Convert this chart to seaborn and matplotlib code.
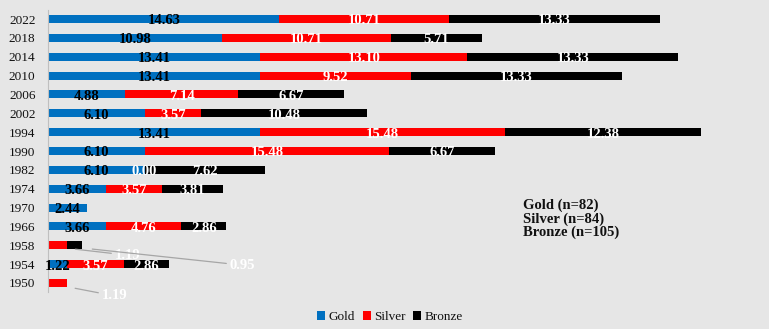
import numpy as np
import pandas as pd
import matplotlib
matplotlib.use("Agg")
import matplotlib.pyplot as plt
from matplotlib.patches import Patch
import seaborn as sns

years = ["2022", "2018", "2014", "2010", "2006", "2002", "1994", "1990",
         "1982", "1974", "1970", "1966", "1958", "1954", "1950"]
gold = [14.63, 10.98, 13.41, 13.41, 4.88, 6.10, 13.41, 6.10,
        6.10, 3.66, 2.44, 3.66, np.nan, 1.22, np.nan]
silver = [10.71, 10.71, 13.10, 9.52, 7.14, 3.57, 15.48, 15.48,
          0.00, 3.57, np.nan, 4.76, 1.19, 3.57, 1.19]
bronze = [13.33, 5.71, 13.33, 13.33, 6.67, 10.48, 12.38, 6.67,
          7.62, 3.81, np.nan, 2.86, 0.95, 2.86, np.nan]
series_names = ["Gold", "Silver", "Bronze"]
counts = ["Gold (n=82)", "Silver (n=84)", "Bronze (n=105)"]
colors = ["#0070C0", "#FF0000", "#000000"]
bg = "#E6E6E6"

sns.set_style("white", {"axes.facecolor": bg, "figure.facecolor": bg})
plt.rcParams["font.family"] = ["Liberation Serif", "DejaVu Serif"]

df = pd.DataFrame({"year": years, "Gold": gold, "Silver": silver, "Bronze": bronze})
g0 = df["Gold"].fillna(0)
s0 = df["Silver"].fillna(0)
b0 = df["Bronze"].fillna(0)
df["c_gold"] = g0
df["c_silver"] = g0 + s0
df["c_bronze"] = g0 + s0 + b0

fig = plt.figure(figsize=(7.69, 3.29), dpi=100)
fig.patch.set_facecolor(bg)
ax = fig.add_axes([48 / 769, 1 - 292.4 / 329, (760 - 48) / 769, (292.4 - 9.6) / 329])

W = 0.43
for col, c in [("c_bronze", colors[2]), ("c_silver", colors[1]), ("c_gold", colors[0])]:
    sns.barplot(data=df, x=col, y="year", order=years, orient="h", color=c,
                width=W, saturation=1, ax=ax, linewidth=0)

ax.set_xlim(0, 45)
ax.set_ylim(len(years) - 0.5, -0.5)
ax.set_xlabel("")
ax.set_ylabel("")
ax.set_xticks([])
ax.tick_params(axis="y", length=0, labelsize=9.5, pad=9, labelcolor="#111111")
for s in ["top", "right", "bottom"]:
    ax.spines[s].set_visible(False)
ax.spines["left"].set_color("#BFBFBF")
ax.spines["left"].set_linewidth(0.8)

# data labels
leader = {  # (year, series): offset in pixels (dx, dy down positive)
    ("1958", "Silver"): (70, 8),
    ("1958", "Bronze"): (168, 18),
    ("1950", "Silver"): (57, 11),
}
px2pt = 72 / 100
for i, yr in enumerate(years):
    starts = [0, g0[i], g0[i] + s0[i]]
    vals = [gold[i], silver[i], bronze[i]]
    for k, name in enumerate(series_names):
        v = vals[k]
        if v is None or np.isnan(v):
            continue
        xc = starts[k] + v / 2
        tc = "black" if k == 0 else "white"
        key = (yr, name)
        if key in leader:
            dx, dy = leader[key]
            ax.annotate(f"{v:.2f}", xy=(xc, i + 0.1), xytext=(dx * px2pt, -dy * px2pt),
                        textcoords="offset points", ha="center", va="center",
                        fontsize=10.5, fontweight="bold", color="white",
                        arrowprops=dict(arrowstyle="-", color="#A6A6A6", lw=0.9,
                                        shrinkA=0, shrinkB=13))
        else:
            ax.text(xc, i + 0.1, f"{v:.2f}", ha="center", va="center",
                    fontsize=10.5, fontweight="bold", color=tc)

# n box
fig.text(523 / 769, 1 - 199 / 329, "\n".join(counts), ha="left", va="top",
         fontsize=10.5, fontweight="bold", color="#111111", linespacing=1.0)

handles = [Patch(facecolor=c, edgecolor="none", label=n) for n, c in zip(series_names, colors)]
fig.legend(handles=handles, loc="center", bbox_to_anchor=(390 / 769, 1 - 317 / 329),
           ncol=3, frameon=False, fontsize=9.5, handlelength=0.6, handleheight=0.6,
           handletextpad=0.25, columnspacing=0.6, labelcolor="#111111")

fig.savefig("out.png", dpi=100, facecolor=bg)
